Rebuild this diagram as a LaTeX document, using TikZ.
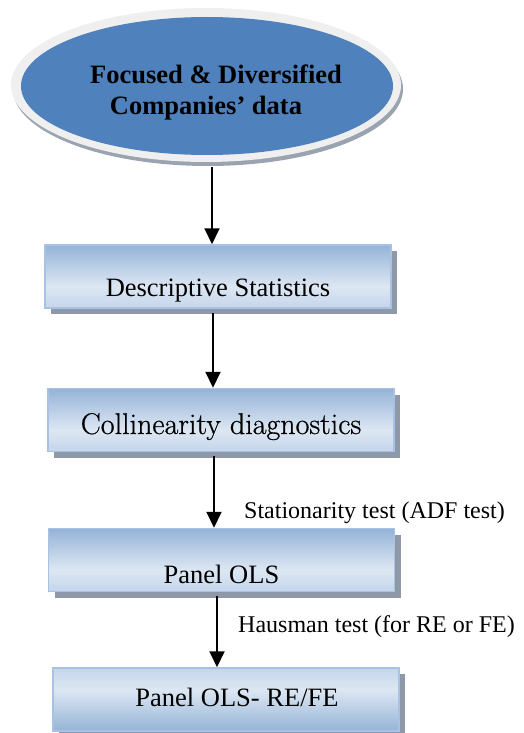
\documentclass[tikz,border=0pt]{standalone}
\usepackage{fontspec}
\setmainfont{Liberation Serif}
\newfontfamily\palfont[FakeBold=0.6]{Latin Modern Roman}
\usetikzlibrary{shapes.geometric,arrows.meta,shadows}
\definecolor{eblue}{HTML}{4F81BD}
\definecolor{rimc}{HTML}{EFEFEF}
\definecolor{rimsh}{HTML}{9AA4B0}
\definecolor{boxD}{HTML}{95B3D7}
\definecolor{boxL}{HTML}{DDE7F3}
\definecolor{boxM}{HTML}{C4D5EB}
\definecolor{boxE}{HTML}{A9C1E2}
\definecolor{boxsh}{HTML}{8D99A8}
\pgfdeclareverticalshading{shadeA}{100bp}{color(0bp)=(boxM); color(25bp)=(boxM); color(42bp)=(boxL); color(75bp)=(boxD); color(100bp)=(boxD)}
\pgfdeclareverticalshading{shadeB}{100bp}{color(0bp)=(boxD); color(25bp)=(boxD); color(58bp)=(boxL); color(75bp)=(boxM); color(100bp)=(boxM)}
\tikzset{
  box/.style={rectangle, minimum width=346pt, minimum height=63pt, inner sep=0pt,
    draw=boxE, line width=1.5pt, shading=shadeA,
    drop shadow={shadow xshift=6pt, shadow yshift=-6pt, fill=boxsh, opacity=1},
    font=\fontsize{26.5}{30}\selectfont},
  arr/.style={line width=2pt, -{Triangle[width=15pt,length=16pt]}},
  lbl/.style={anchor=base west, inner sep=0pt, font=\fontsize{24}{28}\selectfont}
}
\begin{document}
\begin{tikzpicture}[x=1pt,y=-1pt]
\useasboundingbox (0,0) rectangle (524,733);
% source ellipse
\node[ellipse, minimum width=390pt, minimum height=154pt, fill=rimc, inner sep=0pt,
  drop shadow={shadow xshift=2pt, shadow yshift=-4pt, fill=rimsh, opacity=1}] (rim) at (206,85) {};
\node[ellipse, minimum width=372pt, minimum height=138pt, fill=eblue, inner sep=0pt] (src) at (207,86) {};
\node[align=center, inner sep=0pt, font=\bfseries\fontsize{26.5}{31}\selectfont] (srctxt) at (216,92)
  {Focused \& Diversified\\Companies’ data\hspace*{20pt}};
% boxes
\node[box, text height=45pt, text depth=6pt] (d1) at (218,276.5) {Descriptive Statistics};
\node[box, text height=30pt, text depth=2pt, font=\palfont\fontsize{30}{34}\selectfont] (d2) at (221,420) {Collinearity diagnostics};
\node[box, text height=50pt, text depth=4pt] (d3) at (221.5,560) {Panel OLS};
\node[box, shading=shadeB, text height=20pt, text depth=6pt] (d4) at (226,699.5) {\hspace*{22pt}Panel OLS- RE/FE};
% arrow end points
\path ([xshift=-6pt]d1.north) coordinate (e1)
      ([xshift=-8pt]d2.north) coordinate (e2)
      ([xshift=-7.5pt]d3.north) coordinate (e3)
      ([xshift=-9pt]d4.north) coordinate (e4);
\draw[arr, shorten <=5pt] (e1 |- rim.south) -- (e1);
\draw[arr, shorten <=4pt] (e2 |- d1.south) -- (e2);
\draw[arr, shorten <=4pt] (e3 |- d2.south) -- (e3);
\draw[arr, shorten <=4pt] (e4 |- d3.south) -- (e4);
% labels
\node[lbl] (st) at (244,518) {Stationarity test (ADF test)};
\node[lbl] (ht) at (238,632) {Hausman test (for RE or FE)};
\end{tikzpicture}
\end{document}
